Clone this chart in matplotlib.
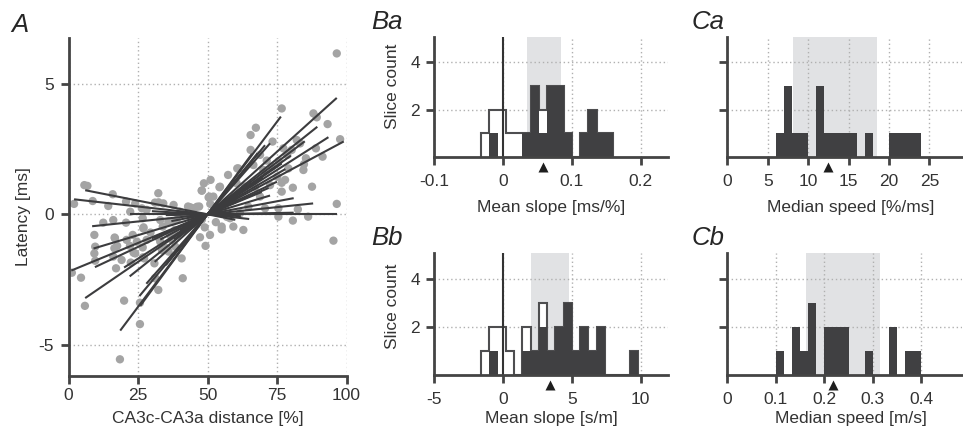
import matplotlib
matplotlib.use("Agg")
import matplotlib.pyplot as plt
import matplotlib.transforms as mtransforms
import numpy as np

plt.rcParams['font.family'] = ['Liberation Sans', 'DejaVu Sans']
plt.rcParams['axes.unicode_minus'] = False

# ---------------- data ----------------
# Panel A: individual latency points (distance %, latency ms)
dist_pct = [
    96.5, 88.1, 89.3, 93.2, 67.4, 65.5, 73.4, 76.7, 97.7, 82.1, 91.4, 89.0, 84.7, 87.6,
    76.7, 80.7, 77.9, 72.5, 82.5, 80.7, 86.2, 75.5, 96.5, 95.3, 62.9, 60.7, 57.4, 54.3,
    51.1, 48.7, 47.9, 50.7, 53.1, 55.1, 50.9, 49.3, 47.3, 45.1, 43.7, 40.1, 38.9, 35.9,
    32.3, 31.1, 34.1, 28.1, 26.7, 24.0, 20.7, 15.9, 14.3, 12.5, 16.1, 20.7, 9.3, 8.7,
    5.7, 6.8, 2.0, 1.2, 4.5, 5.9, 20.0, 25.7, 18.5, 25.7, 32.3, 31.1, 41.1, 40.7,
    35.3, 30.9, 27.2, 26.7, 24.0, 22.1, 20.9, 16.7, 16.5, 16.1, 17.1, 19.1, 22.4, 9.3,
    9.6, 9.6, 28.1, 29.5, 32.6, 36.5, 38.3, 42.5, 44.9, 46.1, 26.9,
    85.4, 84.5, 83.3, 80.3, 77.3, 78.7, 75.6, 79.1, 75.1, 76.7, 65.5, 68.9, 71.3, 66.5,
    70.1, 61.1, 73.1, 67.1, 68.9, 63.5, 60.5, 54.5, 52.1, 59.3, 64.7, 70.7, 75.5, 61.7,
    58.1, 55.1, 59.3,
    32.4, 26.4, 22.2, 37.8, 43.8, 46.2, 48.0, 50.4, 27.0, 33.0, 33.9, 37.2, 16.6, 23.1,
    24.6, 33.0, 33.6, 37.2, 38.4, 17.5, 23.4, 26.8, 36.0, 31.2,
    48.0, 52.0, 47.0, 53.0, 49.0, 51.0, 46.0, 54.0, 44.0, 56.0, 57.0, 43.0,
]
latency_ms = [
    6.17, 3.87, 3.72, 3.46, 3.32, 3.04, 2.79, 4.06, 2.88, 2.85, 2.21, 2.53, 1.92, 1.06,
    1.21, 1.02, 1.32, 1.12, 0.19, -0.24, -0.09, -0.09, 0.40, -1.01, -0.60, 1.76, 1.51, 1.04,
    1.32, 1.19, 0.91, 0.68, 0.29, -0.58, -0.79, -1.21, -0.88, 0.23, 0.04, 0.10, -0.22, -0.28,
    0.81, 0.45, 0.42, 0.17, -0.15, 0.42, 0.49, 0.77, 0.32, -0.32, -0.22, -0.32, -0.79, 0.51,
    1.12, 1.09, 0.40, -2.24, -2.43, -3.51, -3.31, -4.21, -5.56, -3.39, -2.90, -2.45, -2.45, -1.69,
    -1.30, -1.88, -1.69, -1.27, -1.50, -1.21, -0.98, -0.92, -1.30, -1.62, -2.07, -1.75, -1.85, -1.50,
    -1.78, -1.24, -0.98, -0.70, -0.92, -0.79, -0.60, -0.47, -0.32, -0.09, -0.54,
    2.15, 1.70, 2.72, 2.47, 2.53, 2.28, 2.04, 1.76, 1.44, 0.87, 2.47, 2.28, 2.06, 1.89,
    1.70, 1.76, 1.83, 1.06, 0.68, 1.06, 1.19, 1.06, 0.68, 0.55, 0.29, 0.23, 0.23, 0.04,
    -0.15, -0.47, -0.47,
    0.46, 0.23, 0.10, 0.36, 0.27, 0.29, 0.91, 0.65, -0.50, -0.22, -0.47, -0.28, -0.89, -0.79,
    -1.05, -1.05, -1.37, -0.98, -1.24, -1.21, -1.47, -1.65, -1.43, -2.45,
    -0.20, 0.10, 0.30, -0.30, -0.50, 0.40, -0.40, 0.20, -0.20, 0.30, -0.10, 0.30,
]

# Panel A: per-slice linear fits through the CA3 midpoint (slope ms/%, x range %)
fit_slope = [-0.021, -0.012, -0.006, 0.000, 0.002, 0.011, 0.020, 0.032, 0.044, 0.050,
             0.046, 0.057, 0.068, 0.073, 0.070, 0.085, 0.096, 0.075, 0.080, 0.121,
             0.128, 0.142, 0.145, 0.130, 0.062]
fit_x0 = [6, 2, 30, 22, 35, 8.5, 37, 9, 1, 9.5, 30, 33, 20, 6, 35, 22, 31, 40, 38, 28,
          25.5, 18.6, 25.8, 35, 40]
fit_x1 = [60, 65, 62, 96.5, 81, 88, 81, 72.5, 69.5, 75, 72, 99, 93.5, 76.7, 70, 89.5,
          96.5, 80, 85, 72.5, 70.7, 76.4, 66, 68, 78]
fit_center = 50

# Panel Ba: mean slope [ms/%]
ba_start, ba_width = -0.032, 0.012
ba_all = [1, 2, 2, 1, 1, 1, 3, 2, 3, 3, 1, 0, 1, 2, 1, 1]
ba_sig = [0, 1, 0, 0, 0, 1, 3, 1, 3, 3, 1, 0, 1, 2, 1, 1]
ba_median, ba_iqr = 0.0575, (0.0348, 0.0843)

# Panel Bb: mean slope [s/m]
bb_start, bb_width = -1.6, 0.6
bb_all = [1, 2, 2, 1, 0, 2, 1, 3, 1, 2, 3, 1, 2, 1, 2, 0, 0, 0, 1]
bb_sig = [0, 1, 0, 0, 0, 1, 1, 2, 1, 2, 3, 1, 2, 1, 2, 0, 0, 0, 1]
bb_median, bb_iqr = 3.43, (2.05, 4.8)

# Panel Ca: median speed [%/ms]
ca_start, ca_width = 6, 1
ca_sig = [1, 3, 1, 1, 0, 3, 1, 1, 1, 1, 0, 1, 0, 0, 1, 1, 1, 1]
ca_median, ca_iqr = 12.5, (8.13, 18.5)

# Panel Cb: median speed [m/s]
cb_start, cb_width = 0.1, 1 / 60
cb_sig = [1, 0, 2, 1, 3, 0, 2, 2, 2, 0, 0, 1, 0, 0, 2, 0, 1, 1]
cb_median, cb_iqr = 0.217, (0.162, 0.315)

a_xticks = [0, 25, 50, 75, 100]
a_yticks = [-5, 0, 5]
a_yticklabels = ['-5', '0', '5']
ba_xticks, ba_xticklabels = [-0.1, 0, 0.1, 0.2], ['-0.1', '0', '0.1', '0.2']
bb_xticks, bb_xticklabels = [-5, 0, 5, 10], ['-5', '0', '5', '10']
ca_xticks, ca_xticklabels = [0, 5, 10, 15, 20, 25], ['0', '5', '10', '15', '20', '25']
cb_xticks, cb_xticklabels = [0, 0.1, 0.2, 0.3, 0.4], ['0', '0.1', '0.2', '0.3', '0.4']
count_ticks = [2, 4]

# ---------------- style ----------------
W, H = 963, 432
fig = plt.figure(figsize=(W / 100, H / 100), dpi=100)

DARK = '#404042'
OUTLINE = '#4e4e50'
SPINE = '#444444'
TEXT = '#333333'
GRID = '#b0b0b0'
SHADE = '#e1e2e4'
POINT = '#a4a4a4'
LINE = '#3c3c3e'


def box(l, t, r, b):
    return [l / W, 1 - b / H, (r - l) / W, (b - t) / H]


def style(ax, xpad):
    for s in ('top', 'right'):
        ax.spines[s].set_visible(False)
    for s in ('left', 'bottom'):
        ax.spines[s].set_color(SPINE)
        ax.spines[s].set_linewidth(2.0)
    ax.tick_params(direction='out', length=5.8, width=2.0, color=SPINE,
                   labelsize=12.5, labelcolor=TEXT)
    ax.tick_params(axis='x', pad=xpad)
    ax.tick_params(axis='y', pad=4.5)
    ax.set_axisbelow(True)
    ax.grid(True, linestyle=(0, (1, 2)), color=GRID, linewidth=1.0)


def ftext(x, y, s, **kw):
    kw.setdefault('fontsize', 12.5)
    kw.setdefault('color', TEXT)
    fig.text(x / W, 1 - y / H, s, **kw)


# ---------------- panel A ----------------
axA = fig.add_axes(box(68.5, 38.3, 346.5, 376))
style(axA, 2.5)
axA.scatter(dist_pct, latency_ms, s=36, color=POINT, edgecolors='none', zorder=2)
for s, x0, x1 in zip(fit_slope, fit_x0, fit_x1):
    xs = np.array([x0, x1])
    axA.plot(xs, s * (xs - fit_center), color=LINE, lw=1.5, solid_capstyle='butt', zorder=3)
axA.set_xlim(0, 100)
axA.set_ylim(-6.2, 6.75)
axA.set_xticks(a_xticks)
axA.set_yticks(a_yticks, a_yticklabels)


# ---------------- histogram panels ----------------
def hist_panel(rect, start, width, sig, allc, median, iqr, xlim, ticks, labels, ylabels):
    ax = fig.add_axes(rect)
    style(ax, 6.5)
    edges = start + width * np.arange(len(sig) + 1)
    ax.axvspan(iqr[0], iqr[1], color=SHADE, lw=0, zorder=0.1)
    if allc is not None:
        ax.stairs(allc, edges, fill=True, facecolor='white', edgecolor=OUTLINE,
                  linewidth=1.5, zorder=1.5)
        ax.axvline(0, color='#333333', lw=1.5, zorder=2.5)
    ax.stairs(sig, edges, fill=True, facecolor=DARK, edgecolor='none', linewidth=0, zorder=2)
    ax.set_xlim(*xlim)
    ax.set_ylim(0, 5.05)
    ax.set_xticks(ticks, labels)
    ax.set_yticks(count_ticks)
    if not ylabels:
        ax.tick_params(axis='y', labelleft=False)
    tri = (mtransforms.blended_transform_factory(ax.transData, ax.transAxes)
           + mtransforms.ScaledTranslation(0, -10 / 100, fig.dpi_scale_trans))
    ax.plot([median], [0], marker='^', ms=7.5, color='#1e1e1e', mec='none',
            transform=tri, clip_on=False, zorder=5)
    return ax


hist_panel(box(434.3, 37.3, 668.3, 157), ba_start, ba_width, ba_sig, ba_all,
           ba_median, ba_iqr, (-0.1, 0.24), ba_xticks, ba_xticklabels, True)
hist_panel(box(434.3, 253.3, 668.3, 375), bb_start, bb_width, bb_sig, bb_all,
           bb_median, bb_iqr, (-5, 12), bb_xticks, bb_xticklabels, True)
hist_panel(box(727.3, 37.3, 961.7, 157), ca_start, ca_width, ca_sig, None,
           ca_median, ca_iqr, (0, 29), ca_xticks, ca_xticklabels, False)
hist_panel(box(727.3, 253.3, 961.7, 375), cb_start, cb_width, cb_sig, None,
           cb_median, cb_iqr, (0, 29 / 60), cb_xticks, cb_xticklabels, False)

# ---------------- labels ----------------
ftext(23.5, 217, 'Latency [ms]', rotation=90, ha='center', va='center')
ftext(208, 419, 'CA3c-CA3a distance [%]', ha='center', va='center')
ftext(392.5, 86, 'Slice count', rotation=90, ha='center', va='center')
ftext(392.5, 306, 'Slice count', rotation=90, ha='center', va='center')
ftext(551, 207, 'Mean slope [ms/%]', ha='center', va='center')
ftext(851, 207, 'Median speed [%/ms]', ha='center', va='center')
ftext(551.5, 418, 'Mean slope [s/m]', ha='center', va='center')
ftext(851, 418, 'Median speed [m/s]', ha='center', va='center')

for lbl, x, y in [('A', 11.5, 31.5), ('Ba', 371.5, 29), ('Ca', 691.5, 29),
                  ('Bb', 371.5, 245), ('Cb', 691.5, 245)]:
    ftext(x, y, lbl, fontsize=18.5, style='italic', ha='left', va='baseline', color='#262626')

fig.savefig('out.png', dpi=100)
